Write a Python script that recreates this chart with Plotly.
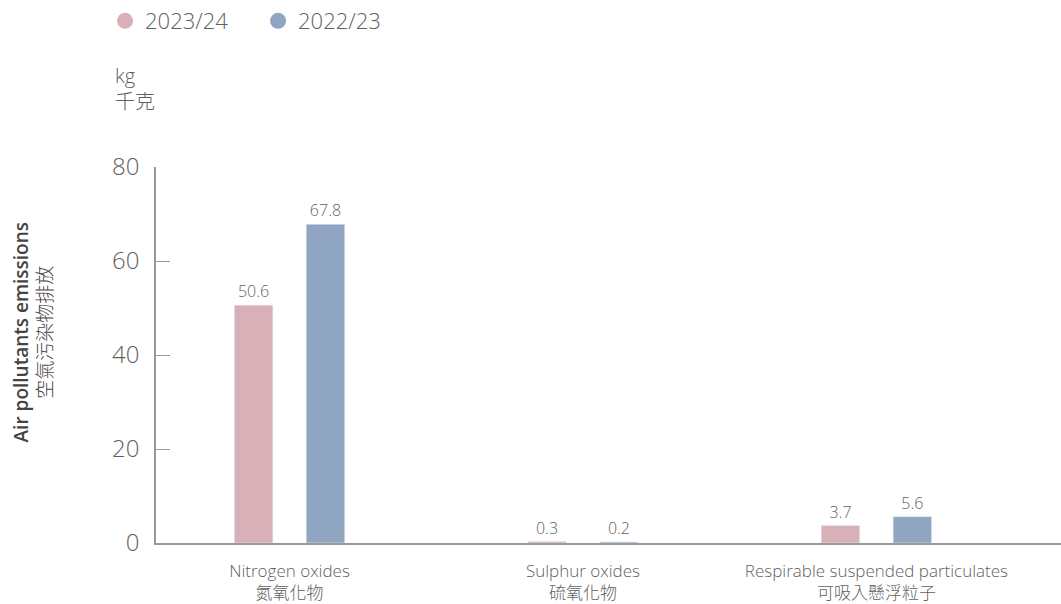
import plotly.graph_objects as go

categories = ["Nitrogen oxides<br>氮氧化物", "Sulphur oxides<br>硫氧化物",
              "Respirable suspended particulates<br>可吸入懸浮粒子"]
series_names = ["2023/24", "2022/23"]
values_2324 = [50.6, 0.3, 3.7]
values_2223 = [67.8, 0.2, 5.6]
y_ticks = [0, 20, 40, 60, 80]

colors = ["#D7B0B8", "#8FA5C2"]
FONT = "'Open Sans', 'Noto Sans CJK TC', sans-serif"
GREY = "#5f5f5f"
LIGHT = 300

fig = go.Figure()
for name, vals, col in zip(series_names, [values_2324, values_2223], colors):
    fig.add_trace(go.Bar(
        x=categories, y=vals, name=name, marker_color=col, showlegend=False,
        text=[f"{v:.1f}" for v in vals], textposition="outside",
        textfont=dict(size=16, color=GREY, family=FONT, weight=LIGHT),
        cliponaxis=False,
    ))
for name, col in zip(series_names, colors):
    fig.add_trace(go.Scatter(
        x=[None], y=[None], mode="markers", name=name,
        marker=dict(symbol="circle", size=16, color=col),
    ))

fig.update_layout(
    width=1061, height=604,
    margin=dict(l=156, r=0, t=167, b=56),
    paper_bgcolor="white", plot_bgcolor="white",
    barmode="group", bargap=0.51, bargroupgap=0.465,
    font=dict(family=FONT, color=GREY, weight=LIGHT),
    legend=dict(orientation="h", xref="container", yref="container",
                x=0.099, y=1.0, xanchor="left", yanchor="top",
                font=dict(size=22, color=GREY, family=FONT, weight=LIGHT),
                entrywidth=108, itemwidth=30, traceorder="normal"),
    xaxis=dict(type="category", range=[-0.455, 2.629], showline=True,
               linecolor="#9a9a9a", linewidth=1.5, ticks="",
               tickfont=dict(size=17, color=GREY, family=FONT, weight=LIGHT),
               showgrid=False, zeroline=False, ticklabelstandoff=12),
    yaxis=dict(range=[0, 80], tickvals=y_ticks, showline=True,
               linecolor="#9a9a9a", linewidth=1.5, ticks="inside",
               ticklen=14, tickcolor="#9a9a9a", tickwidth=1.2,
               tickfont=dict(size=24, color=GREY, family=FONT, weight=LIGHT),
               showgrid=False, zeroline=False, ticklabelstandoff=10),
    annotations=[
        dict(text="kg<br>千克", xref="paper", yref="paper",
             x=-0.048, y=1.0, xanchor="left", yanchor="bottom", yshift=50,
             showarrow=False, align="left",
             font=dict(size=20, color=GREY, family=FONT, weight=LIGHT)),
        dict(text="<span style='font-weight:600'>Air pollutants emissions</span><br>空氣污染物排放",
             xref="paper", yref="paper", x=(33 - 156) / 905, y=0.56,
             xanchor="center", yanchor="middle", textangle=-90,
             showarrow=False,
             font=dict(size=19, color="#444444", family=FONT, weight=LIGHT)),
    ],
)

fig.write_html("out.html")
